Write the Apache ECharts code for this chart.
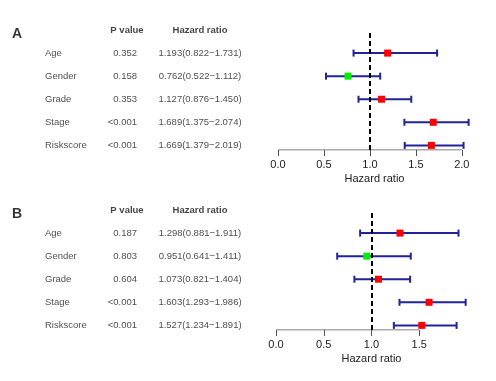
<!DOCTYPE html>
<html>
<head>
<meta charset="utf-8">
<script src="https://cdn.jsdelivr.net/npm/echarts@6/dist/echarts.min.js"></script>
<style>
  html, body { margin: 0; padding: 0; background: #fff; }
  #chart { width: 496px; height: 381px; }
</style>
</head>
<body>
<div id="chart"></div>
<script>
// 数据
const rowNames = ['Age', 'Gender', 'Grade', 'Stage', 'Riskscore']
const headers = ['P value', 'Hazard ratio']
const panelTags = ['A', 'B']

const pA = ['0.352', '0.158', '0.353', '<0.001', '<0.001']
const hrA = [1.193, 0.762, 1.127, 1.689, 1.669]
const lowA = [0.822, 0.522, 0.876, 1.375, 1.379]
const highA = [1.731, 1.112, 1.450, 2.074, 2.019]

const pB = ['0.187', '0.803', '0.604', '<0.001', '<0.001']
const hrB = [1.298, 0.951, 1.073, 1.603, 1.527]
const lowB = [0.881, 0.641, 0.821, 1.293, 1.234]
const highB = [1.911, 1.411, 1.404, 1.986, 1.891]

const ticksA = [0, 0.5, 1, 1.5, 2]
const ticksB = [0, 0.5, 1, 1.5]

const FONT = 'Liberation Sans, Arial, sans-serif'
const BAR = '#22229a'

// 布局
const panels = [
  { tag: panelTags[0], p: pA, hr: hrA, low: lowA, high: highA, ticks: ticksA,
    top: 30, bottom: 231, fLeft: 278, fRight: 25, xMax: 2.1 },
  { tag: panelTags[1], p: pB, hr: hrB, low: lowB, high: highB, ticks: ticksB,
    top: 210, bottom: 51, fLeft: 276, fRight: 29, xMax: 2.0 }
]
const Y_MIN = 0.8, Y_MAX = 6.0
const rowY = i => rowNames.length - i

const grid = [], xAxis = [], yAxis = [], series = []

function textSeries(idx, data, align, extra) {
  return {
    type: 'scatter', xAxisIndex: idx, yAxisIndex: idx, symbolSize: 0, silent: true,
    data: data,
    label: Object.assign({
      show: true, position: 'inside', align: align, verticalAlign: 'middle',
      formatter: p => p.value[2], fontFamily: FONT, fontSize: 9.5, color: '#222'
    }, extra || {})
  }
}

panels.forEach((pn, k) => {
  const ti = k * 2, fi = k * 2 + 1
  grid.push({ left: 0, width: 260, top: pn.top, bottom: pn.bottom })
  grid.push({ left: pn.fLeft, right: pn.fRight, top: pn.top, bottom: pn.bottom })

  xAxis.push({ gridIndex: ti, type: 'value', min: 0, max: 260, show: false })
  xAxis.push({
    gridIndex: fi, type: 'value', min: 0, max: pn.xMax,
    splitLine: { show: false },
    axisLine: { show: false },
    axisTick: { show: true, customValues: pn.ticks, length: 6, lineStyle: { color: '#555' } },
    axisLabel: { customValues: pn.ticks, formatter: v => v.toFixed(1), fontSize: 11,
      fontFamily: FONT, color: '#222', margin: 9 },
    name: 'Hazard ratio', nameLocation: 'middle', nameGap: 23,
    nameTextStyle: { fontSize: 11, fontFamily: FONT, color: '#222' }
  })
  yAxis.push({ gridIndex: ti, type: 'value', min: Y_MIN, max: Y_MAX, show: false })
  yAxis.push({ gridIndex: fi, type: 'value', min: Y_MIN, max: Y_MAX, show: false })

  // 左侧表格
  series.push(textSeries(ti, [[17, 5.83, pn.tag]], 'center',
    { fontSize: 14, fontWeight: 'bold', color: '#000' }))
  series.push(textSeries(ti, [[127, 5.97, headers[0]], [200, 5.97, headers[1]]], 'center',
    { fontWeight: 'bold', color: '#111' }))
  series.push(textSeries(ti, rowNames.map((n, i) => [45, rowY(i), n]), 'left'))
  series.push(textSeries(ti, pn.p.map((v, i) => [137, rowY(i), v]), 'right'))
  series.push(textSeries(ti, pn.hr.map((v, i) =>
    [200, rowY(i), v.toFixed(3) + '(' + pn.low[i].toFixed(3) + '\u2212' + pn.high[i].toFixed(3) + ')']), 'center'))

  // 坐标轴线（只画到最后一个刻度）
  series.push({
    type: 'line', xAxisIndex: fi, yAxisIndex: fi, symbol: 'none', silent: true,
    data: [[pn.ticks[0], Y_MIN], [pn.ticks[pn.ticks.length - 1], Y_MIN]],
    lineStyle: { color: '#555', width: 1 }
  })

  // 置信区间
  series.push({
    type: 'custom', xAxisIndex: fi, yAxisIndex: fi, silent: true, clip: false,
    data: pn.low.map((l, i) => [l, pn.high[i], rowY(i)]),
    renderItem: (params, api) => {
      const a = api.coord([api.value(0), api.value(2)])
      const b = api.coord([api.value(1), api.value(2)])
      const h = 3.5
      const st = { stroke: BAR, lineWidth: 2 }
      return {
        type: 'group',
        children: [
          { type: 'line', shape: { x1: a[0], y1: a[1], x2: b[0], y2: b[1] }, style: st },
          { type: 'line', shape: { x1: a[0], y1: a[1] - h, x2: a[0], y2: a[1] + h }, style: st },
          { type: 'line', shape: { x1: b[0], y1: b[1] - h, x2: b[0], y2: b[1] + h }, style: st }
        ]
      }
    },
    markLine: {
      silent: true, symbol: 'none', animation: false,
      label: { show: false },
      lineStyle: { color: '#000', type: [5, 3], width: 2 },
      data: [{ xAxis: 1 }]
    },
    z: 3
  })

  // HR 点
  series.push({
    type: 'scatter', xAxisIndex: fi, yAxisIndex: fi, symbol: 'rect', symbolSize: 7, silent: true,
    data: pn.hr.map((v, i) => [v, rowY(i)]),
    itemStyle: { color: p => p.value[0] < 1 ? '#00ee00' : '#ff0000', opacity: 1 },
    z: 5
  })
})

const chart = echarts.init(document.getElementById('chart'))
chart.setOption({
  animation: false,
  backgroundColor: '#fff',
  textStyle: { fontFamily: FONT },
  grid: grid,
  xAxis: xAxis,
  yAxis: yAxis,
  series: series
})
</script>
</body>
</html>
